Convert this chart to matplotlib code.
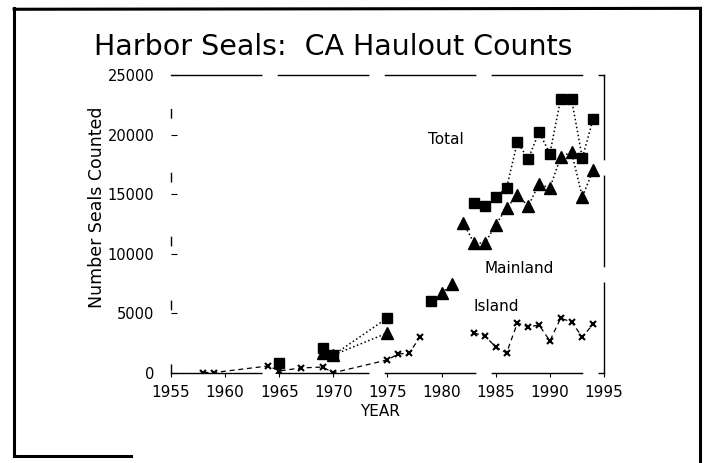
import numpy as np
import matplotlib
matplotlib.use("Agg")
from matplotlib import pyplot as plt
from matplotlib.lines import Line2D

nan = np.nan

# Total (squares), gaps where the line is broken
total_years = [1965, nan, 1969, 1970, 1975, nan, 1979, nan,
               1983, 1984, 1985, 1986, 1987, 1988, 1989, 1990, 1991, 1992, 1993, 1994]
total_counts = [840, nan, 2100, 1510, 4620, nan, 6040, nan,
                14260, 14010, 14770, 15520, 19380, 17950, 20220, 18400, 22990, 22990, 18040, 21310]

# Mainland (triangles)
main_years = [1969, 1970, 1975, nan, 1980, 1981, nan,
              1982, 1983, 1984, 1985, 1986, 1987, 1988, 1989, 1990, 1991, 1992, 1993, 1994]
main_counts = [1680, 1510, 3360, nan, 6710, 7470, nan,
               12590, 10900, 10900, 12420, 13850, 14930, 14010, 15860, 15520, 18120, 18540, 14770, 17030]

# Island (x markers)
isl_years = [1958, 1959, 1964, 1965, 1967, 1969, 1970, 1975, 1976, 1977, 1978, nan,
             1983, 1984, 1985, 1986, 1987, 1988, 1989, 1990, 1991, 1992, 1993, 1994]
isl_counts = [40, 40, 590, 170, 420, 500, 20, 1100, 1600, 1650, 3020, nan,
              3360, 3100, 2180, 1680, 4200, 3860, 4030, 2690, 4600, 4280, 3020, 4110]

x_ticks = [1955, 1960, 1965, 1970, 1975, 1980, 1985, 1990, 1995]
y_ticks = [0, 5000, 10000, 15000, 20000, 25000]

plt.rcParams['font.family'] = ['DejaVu Sans']

fig = plt.figure(figsize=(7.06, 4.63), dpi=100)
ax = fig.add_axes([0.2422, 0.1944, 0.6133, 0.6436])

ax.plot(main_years, main_counts, ls=':', lw=1.1, color='black',
        marker='^', ms=8.5, zorder=2)
ax.plot(total_years, total_counts, ls=':', lw=1.1, color='black',
        marker='s', ms=7, zorder=3)
ax.plot(isl_years, isl_counts, ls=(0, (4, 3)), lw=0.9, color='black',
        marker='x', ms=5, mew=1.5, zorder=2)

ax.set_xlim(1955, 1995)
ax.set_ylim(0, 25000)
ax.set_xticks(x_ticks)
ax.set_yticks(y_ticks)
ax.tick_params(axis='x', labelsize=11, length=3, direction='out', pad=6)
ax.tick_params(axis='y', labelsize=10.5, length=4, direction='in', pad=12)

# scanned look: broken axis lines
for side in ['top', 'right', 'bottom']:
    ax.spines[side].set_linestyle((0, (65, 12)))
    ax.spines[side].set_linewidth(1.0)
ax.spines['left'].set_linestyle((0, (6, 40)))
ax.spines['left'].set_linewidth(1.0)

ax.text(1978.7, 19550, 'Total', fontsize=11, va='center')
ax.text(1984.0, 8800, 'Mainland', fontsize=11, va='center')
ax.text(1982.9, 5540, 'Island', fontsize=11, va='center')

fig.text(0.472, 0.898, 'Harbor Seals:  CA Haulout Counts', fontsize=20.5,
         ha='center', va='center')
fig.text(0.138, 0.553, 'Number Seals Counted', fontsize=12.5, rotation=90,
         ha='center', va='center')
fig.text(0.538, 0.112, 'YEAR', fontsize=11, ha='center', va='center')

# page border from the scan
for xs, ys in [([0.02, 0.992], [0.980, 0.982]),
               ([0.02, 0.02], [0.982, 0.015]),
               ([0.992, 0.992], [0.982, 0.005]),
               ([0.02, 0.185], [0.015, 0.015])]:
    fig.add_artist(Line2D(xs, ys, color='black', lw=2.2))

fig.savefig('out.png', dpi=100)
